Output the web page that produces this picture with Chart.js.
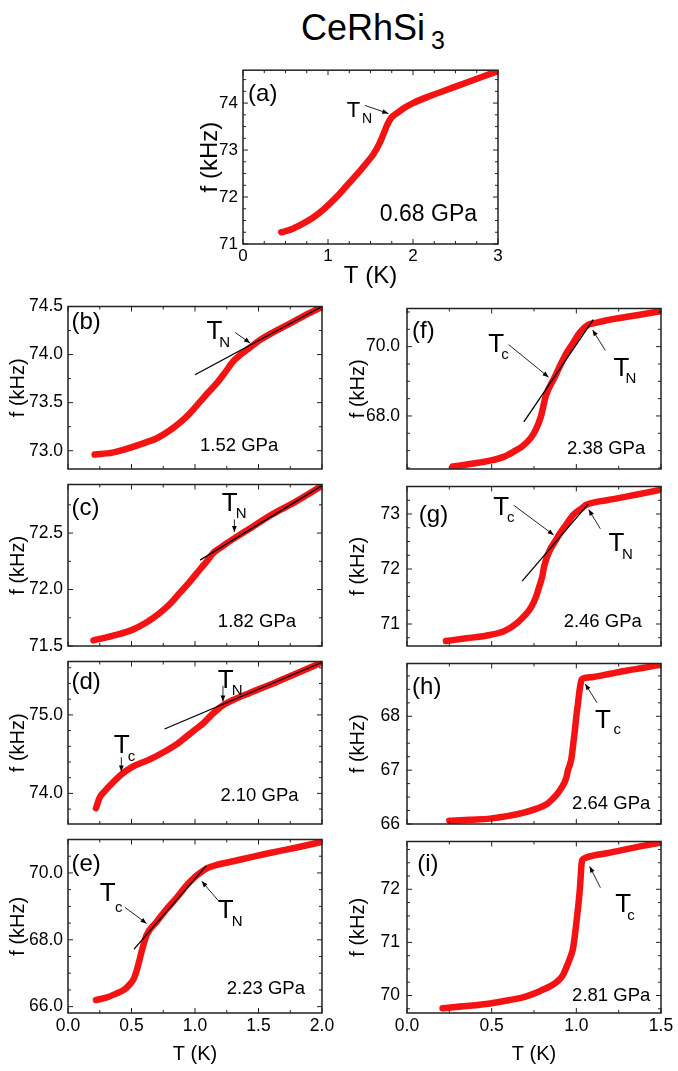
<!DOCTYPE html>
<html><head><meta charset="utf-8">
<script src="https://cdn.jsdelivr.net/npm/chart.js@4.4.0/dist/chart.umd.min.js"></script>
<style>
html,body{margin:0;padding:0;background:#fff;}
body{width:678px;height:1071px;position:relative;overflow:hidden;font-family:"Liberation Sans",Arial,Helvetica,sans-serif;}
canvas{position:absolute;}
.tt{position:absolute;white-space:nowrap;line-height:1;color:#000;}
</style></head><body>
<span class="tt" style="left:301px;top:10px;font-size:36px;">CeRhSi</span>
<span class="tt" style="left:431px;top:28px;font-size:25px;">3</span>
<script>
// ---------------- data ----------------
// (a) 0.68 GPa
const tA = [0.45,0.55,0.70,0.83,0.95,1.10,1.22,1.34,1.45,1.53,1.60,1.65,1.70,1.75,1.80,1.90,2.00,2.20,2.50,2.80,3.00];
const fA = [71.25,71.30,71.43,71.57,71.74,72.00,72.24,72.48,72.72,72.90,73.12,73.33,73.55,73.70,73.77,73.90,74.00,74.15,74.35,74.55,74.68];
// (b) 1.52 GPa
const tB = [0.21,0.35,0.51,0.62,0.70,0.80,0.88,0.96,1.04,1.10,1.17,1.24,1.30,1.36,1.41,1.51,1.60,1.70,1.80,1.90,1.99];
const fB = [72.96,72.98,73.04,73.09,73.13,73.21,73.29,73.39,73.51,73.60,73.70,73.82,73.93,74.00,74.05,74.15,74.22,74.29,74.36,74.43,74.49];
const tanBT = [1.0,2.0];  const tanBF = [73.79,74.50];
// (c) 1.82 GPa
const tC = [0.20,0.35,0.51,0.62,0.72,0.80,0.88,0.96,1.04,1.10,1.14,1.20,1.25,1.36,1.46,1.57,1.68,1.78,1.90,2.00];
const fC = [71.55,71.59,71.645,71.71,71.79,71.87,71.97,72.07,72.18,72.26,72.32,72.37,72.41,72.49,72.56,72.64,72.71,72.77,72.85,72.92];
const tanCT = [1.04,2.0]; const tanCF = [72.26,72.92];
// (d) 2.10 GPa
const tD = [0.22,0.25,0.29,0.33,0.42,0.51,0.64,0.78,0.86,0.93,1.00,1.07,1.13,1.20,1.30,1.43,1.57,1.70,1.83,2.00];
const fD = [73.81,73.95,74.03,74.10,74.24,74.34,74.43,74.55,74.63,74.72,74.81,74.90,75.00,75.10,75.19,75.28,75.37,75.46,75.55,75.67];
const tanDT = [0.76,2.0]; const tanDF = [74.82,75.67];
// (e) 2.23 GPa
const tE = [0.22,0.30,0.38,0.44,0.49,0.52,0.54,0.56,0.58,0.62,0.70,0.78,0.86,0.93,1.00,1.04,1.10,1.17,1.30,1.45,1.57,1.80,2.00];
const fE = [66.20,66.27,66.39,66.50,66.68,66.85,67.07,67.35,67.65,68.15,68.55,68.93,69.28,69.61,69.88,70.00,70.15,70.24,70.35,70.48,70.58,70.76,70.93];
const tanET = [0.52,1.09]; const tanEF = [67.72,70.22];
// (f) 2.38 GPa
const tF = [0.27,0.38,0.49,0.57,0.63,0.68,0.73,0.76,0.79,0.82,0.87,0.94,0.98,1.02,1.07,1.12,1.18,1.30,1.40,1.50];
const fF = [66.54,66.62,66.71,66.82,66.97,67.12,67.36,67.60,67.97,68.58,69.10,69.80,70.10,70.41,70.63,70.69,70.76,70.86,70.94,71.02];
const tanFT = [0.69,1.10]; const tanFF = [67.83,70.78];
// (g) 2.46 GPa
const tG = [0.23,0.35,0.49,0.58,0.65,0.70,0.73,0.76,0.78,0.80,0.81,0.84,0.88,0.91,0.95,0.98,1.03,1.06,1.12,1.18,1.30,1.40,1.50];
const fG = [70.69,70.74,70.80,70.88,71.02,71.17,71.29,71.48,71.67,71.88,72.05,72.32,72.53,72.68,72.85,72.98,73.10,73.17,73.22,73.25,73.32,73.38,73.44];
const tanGT = [0.68,1.07]; const tanGF = [71.78,73.18];
// (h) 2.64 GPa
const tH = [0.25,0.37,0.49,0.60,0.69,0.77,0.83,0.88,0.91,0.94,0.95,0.97,0.98,0.99,1.00,1.01,1.02,1.03,1.04,1.10,1.20,1.30,1.40,1.50];
const fH = [66.06,66.08,66.10,66.15,66.21,66.29,66.38,66.53,66.66,66.85,66.99,67.20,67.44,67.70,68.00,68.25,68.50,68.67,68.70,68.73,68.79,68.85,68.90,68.96];
// (i) 2.81 GPa
const tI = [0.21,0.35,0.49,0.60,0.70,0.79,0.85,0.89,0.92,0.94,0.96,0.98,0.99,1.00,1.01,1.02,1.025,1.03,1.035,1.04,1.06,1.20,1.35,1.50];
const fI = [69.76,69.80,69.85,69.91,69.98,70.09,70.18,70.27,70.38,70.52,70.68,70.88,71.10,71.36,71.65,71.97,72.20,72.45,72.55,72.57,72.60,72.69,72.79,72.88];

// tick labels
const xTicksA = [0,1,2,3];
const xTicksLow = [0.0,0.5,1.0,1.5,2.0];
const xTicksRight = [0.0,0.5,1.0,1.5];

// ---------------- annotations (position in data units) ----------------
const notes = {
 a:[['(a)',0.06,74.19,24],['0.68 GPa',1.61,71.63,23],['T',1.22,73.84,22],['N',1.40,73.65,14]],
 b:[['(b)',0.027,74.34,24],['1.52 GPa',1.04,73.05,18.5],['T',1.09,74.24,26],['N',1.19,74.12,15]],
 c:[['(c)',0.027,72.72,24],['1.82 GPa',1.18,71.71,18.5],['T',1.21,72.76,26],['N',1.32,72.67,15]],
 d:[['(d)',0.027,75.41,24],['2.10 GPa',1.20,73.97,18.5],['T',1.18,75.43,26],['N',1.29,75.30,15],['T',0.36,74.61,26],['c',0.47,74.47,15]],
 e:[['(e)',0.027,70.27,24],['2.23 GPa',1.25,66.54,18.5],['T',0.25,69.36,26],['c',0.37,68.97,15],['T',1.18,68.88,26],['N',1.29,68.54,15]],
 f:[['(f)',0.03,70.45,24],['2.38 GPa',0.945,67.06,18.5],['T',0.48,70.06,26],['c',0.557,69.76,15],['T',1.22,69.37,26],['N',1.29,69.06,15]],
 g:[['(g)',0.07,72.97,24],['2.46 GPa',0.925,71.04,18.5],['T',0.51,73.11,26],['c',0.59,72.93,15],['T',1.19,72.46,26],['N',1.27,72.26,15]],
 h:[['(h)',0.03,68.53,24],['2.64 GPa',0.975,66.38,18.5],['T',1.11,67.92,26],['c',1.22,67.75,15]],
 i:[['(i)',0.06,72.47,24],['2.81 GPa',0.975,70.00,18.5],['T',1.23,71.70,26],['c',1.30,71.50,15]]
};
const arrows = {
 a:[[1.435,73.95,1.71,73.78]],
 b:[[1.316,74.23,1.434,74.12]],
 c:[[1.31,72.62,1.31,72.51]],
 d:[[1.22,75.37,1.22,75.17],[0.42,74.46,0.42,74.28]],
 e:[[0.448,68.97,0.619,68.49],[1.184,69.17,1.053,69.75]],
 f:[[0.60,70.06,0.836,69.12],[1.171,69.89,1.096,70.48]],
 g:[[0.63,73.16,0.866,72.62],[1.142,72.73,1.073,73.08]],
 h:[[1.122,68.25,1.053,68.60]],
 i:[[1.142,72.03,1.079,72.43]]
};

const FONT = '"Liberation Sans", Arial, Helvetica, sans-serif';
const RED = 'rgb(245,18,18)';

const L1 = 68, R1 = 322, L2 = 407, R2 = 661;
const rows = [[303,481],[481,658],[658,836],[836,1013]];
const panels = [
 {id:'a', area:[243,67,498,244], leftW:47, bottomH:47, xLab:true, xr:[0,3], xt:xTicksA, xMinor:0.25, xDec:0, yr:[71,74.7], yStep:1, yMinor:0.25, yDec:0, T:tA, F:fA, big:true, yPad:5},
 {id:'b', area:[L1,rows[0][0],R1,rows[0][1]], leftW:62, bottomH:12, xLab:false, xr:[0,2], xt:xTicksLow, xMinor:0.25, xDec:1, yr:[72.81,74.5], yStep:0.5, yMinor:0.25, yDec:1, T:tB, F:fB, tT:tanBT, tF:tanBF, yPad:5},
 {id:'c', area:[L1,rows[1][0],R1,rows[1][1]], leftW:62, bottomH:12, xLab:false, xr:[0,2], xt:xTicksLow, xMinor:0.25, xDec:1, yr:[71.5,72.93], yStep:0.5, yMinor:0.25, yDec:1, T:tC, F:fC, tT:tanCT, tF:tanCF, yPad:5},
 {id:'d', area:[L1,rows[2][0],R1,rows[2][1]], leftW:62, bottomH:12, xLab:false, xr:[0,2], xt:xTicksLow, xMinor:0.25, xDec:1, yr:[73.61,75.68], yStep:1, yMinor:0.2, yDec:1, T:tD, F:fD, tT:tanDT, tF:tanDF, yPad:5},
 {id:'e', area:[L1,rows[3][0],R1,rows[3][1]], leftW:62, bottomH:53, xLab:true, xr:[0,2], xt:xTicksLow, xMinor:0.25, xDec:1, yr:[65.81,71.0], yStep:2, yMinor:0.5, yDec:1, T:tE, F:fE, tT:tanET, tF:tanEF, yPad:5},
 {id:'f', area:[L2,rows[0][0],R2,rows[0][1]], leftW:61, bottomH:12, xLab:false, xr:[0,1.5], xt:xTicksRight, xMinor:0.25, xDec:1, yr:[66.47,71.1], yStep:2, yMinor:0.5, yDec:1, T:tF, F:fF, tT:tanFT, tF:tanFF, yPad:7},
 {id:'g', area:[L2,rows[1][0],R2,rows[1][1]], leftW:61, bottomH:12, xLab:false, xr:[0,1.5], xt:xTicksRight, xMinor:0.25, xDec:1, yr:[70.6,73.5], yStep:1, yMinor:0.25, yDec:0, T:tG, F:fG, tT:tanGT, tF:tanGF, yPad:7},
 {id:'h', area:[L2,rows[2][0],R2,rows[2][1]], leftW:61, bottomH:12, xLab:false, xr:[0,1.5], xt:xTicksRight, xMinor:0.25, xDec:1, yr:[66,68.98], yStep:1, yMinor:0.25, yDec:0, T:tH, F:fH, yPad:7},
 {id:'i', area:[L2,rows[3][0],R2,rows[3][1]], leftW:61, bottomH:53, xLab:true, xr:[0,1.5], xt:xTicksRight, xMinor:0.25, xDec:1, yr:[69.67,72.9], yStep:1, yMinor:0.25, yDec:0, T:tI, F:fI, yPad:7}
];

function drawArrow(ctx,x1,y1,x2,y2){
  ctx.beginPath(); ctx.moveTo(x1,y1); ctx.lineTo(x2,y2); ctx.stroke();
  const a = Math.atan2(y2-y1,x2-x1), L=6, W=2.4;
  ctx.beginPath(); ctx.moveTo(x2,y2);
  ctx.lineTo(x2-L*Math.cos(a)+W*Math.sin(a), y2-L*Math.sin(a)-W*Math.cos(a));
  ctx.lineTo(x2-L*Math.cos(a)-W*Math.sin(a), y2-L*Math.sin(a)+W*Math.cos(a));
  ctx.closePath(); ctx.fill();
}

const framePlugin = {
  id:'frame',
  afterDraw(chart){
    const p = chart.options.plugins.frame;
    const ctx = chart.ctx, ca = chart.chartArea, xs = chart.scales.x, ys = chart.scales.y;
    ctx.save();
    ctx.strokeStyle = '#222'; ctx.fillStyle='#000';
    ctx.lineWidth = 1;
    const tickSet = (min,max,step)=>{const out=[];const k0=Math.ceil(min/step-1e-6),k1=Math.floor(max/step+1e-6);for(let k=k0;k<=k1;k++)out.push(k*step);return out;};
    const isMajor = (v,step)=>Math.abs(v/step-Math.round(v/step))<1e-6;
    tickSet(xs.min,xs.max,p.xMinor).forEach(v=>{
      const len = isMajor(v,p.xMajor)?5:3; const x = xs.getPixelForValue(v);
      ctx.beginPath(); ctx.moveTo(x,ca.bottom); ctx.lineTo(x,ca.bottom-len);
      ctx.moveTo(x,ca.top); ctx.lineTo(x,ca.top+len); ctx.stroke();
    });
    tickSet(ys.min,ys.max,p.yMinor).forEach(v=>{
      const len = isMajor(v,p.yMajor)?5:3; const y = ys.getPixelForValue(v);
      ctx.beginPath(); ctx.moveTo(ca.left,y); ctx.lineTo(ca.left+len,y);
      ctx.moveTo(ca.right,y); ctx.lineTo(ca.right-len,y); ctx.stroke();
    });
    ctx.lineWidth = 1.5;
    ctx.strokeRect(ca.left,ca.top,ca.right-ca.left,ca.bottom-ca.top);
    ctx.lineWidth = 1;
    (p.arrows||[]).forEach(a=>drawArrow(ctx,xs.getPixelForValue(a[0]),ys.getPixelForValue(a[1]),xs.getPixelForValue(a[2]),ys.getPixelForValue(a[3])));
    ctx.textBaseline='middle'; ctx.textAlign='left';
    (p.notes||[]).forEach(n=>{
      ctx.font = n[3]+'px '+FONT;
      ctx.fillText(n[0], xs.getPixelForValue(n[1]), ys.getPixelForValue(n[2]));
    });
    ctx.restore();
  }
};

panels.forEach(P=>{
  const [l,t,r,b] = P.area;
  const padT = 12, padR = 16;
  const W = r-l+P.leftW+padR, H = b-t+padT+P.bottomH;
  const cv = document.createElement('canvas');
  cv.width=W; cv.height=H; cv.style.left=(l-P.leftW)+'px'; cv.style.top=(t-padT)+'px';
  cv.style.width=W+'px'; cv.style.height=H+'px';
  document.body.appendChild(cv);
  const tickFont = P.big?17:17.5, titleFont = P.big?24:20;
  const datasets = [];
  if (P.tT) datasets.push({data:P.tT.map((x,i)=>({x,y:P.tF[i]})), borderColor:'#000', borderWidth:1.3, pointRadius:0, tension:0});
  datasets.push({data:P.T.map((x,i)=>({x,y:P.F[i]})), borderColor:RED, borderWidth:6.5, pointRadius:0,
     cubicInterpolationMode:'monotone', borderCapStyle:'round', borderJoinStyle:'round'});
  new Chart(cv,{
    type:'line',
    data:{datasets},
    options:{
      responsive:false, animation:false, devicePixelRatio:1,
      layout:{padding:{left:0,top:padT,right:padR,bottom:P.xLab?0:P.bottomH}},
      plugins:{legend:{display:false}, tooltip:{enabled:false},
        frame:{xMinor:P.xMinor, xMajor:0.5*(P.big?2:1), yMinor:P.yMinor, yMajor:P.yStep, notes:notes[P.id], arrows:arrows[P.id]}},
      scales:{
        x:{type:'linear', min:P.xr[0], max:P.xr[1], display:P.xLab,
           afterBuildTicks:s=>{s.ticks = P.xt.map(v=>({value:v}));},
           afterFit:s=>{s.height=P.bottomH;},
           ticks:{autoSkip:false, maxRotation:0, padding:P.big?2:3, color:'#000', font:{family:FONT,size:tickFont},
                  callback:v=>Number(v).toFixed(P.xDec)},
           grid:{display:false, drawTicks:false}, border:{display:false},
           title:{display:true, text:'T (K)', color:'#000', font:{family:FONT,size:titleFont}, padding:0}},
        y:{type:'linear', min:P.yr[0], max:P.yr[1],
           afterFit:s=>{s.width=P.leftW;},
           ticks:{stepSize:P.yStep, includeBounds:false, autoSkip:false, padding:P.yPad, color:'#000', font:{family:FONT,size:tickFont},
                  callback:v=>Number(v).toFixed(P.yDec)},
           grid:{display:false, drawTicks:false}, border:{display:false},
           title:{display:true, text:'f (kHz)', color:'#000', font:{family:FONT,size:titleFont}, padding:0}}
      }
    },
    plugins:[framePlugin]
  });
});
</script>
</body></html>
